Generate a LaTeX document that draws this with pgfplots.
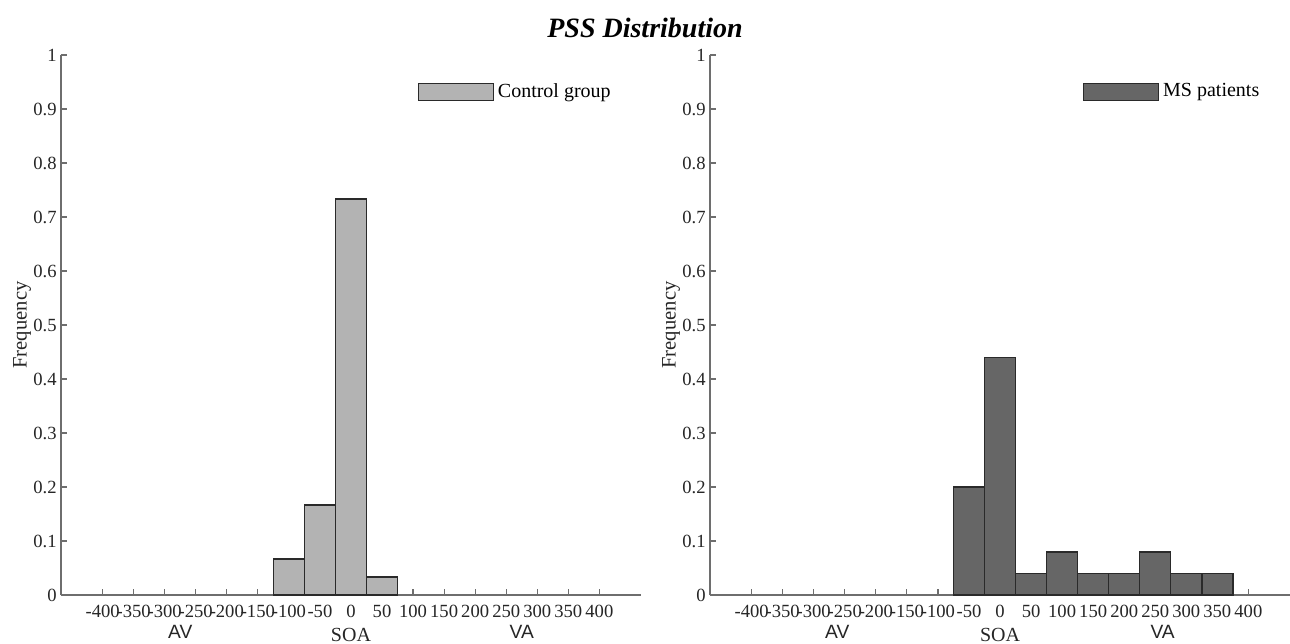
\documentclass[border=0pt]{standalone}
\usepackage{pgfplots}
\pgfplotsset{compat=1.18}
\usepackage{fontspec}
\setmainfont{Liberation Serif}
\newfontfamily\arialfont{Liberation Sans}
\definecolor{ctrl}{HTML}{B3B3B3}
\definecolor{msp}{HTML}{666666}
\definecolor{edge}{HTML}{2A2A2A}
\definecolor{axgray}{HTML}{6E6E6E}
\tikzset{sidelab/.style={font=\arialfont\fontsize{9.6}{11}\selectfont, anchor=base, yshift=-21.5pt, inner sep=0pt, text=black!85}}
\pgfplotsset{
 pss/.style={
  scale only axis, width=290pt, height=270pt,
  axis lines=left, axis line style={axgray, line width=0.85pt, -},
  xmin=-467, xmax=467, ymin=0, ymax=1,
  xtick={-400,-350,-300,-250,-200,-150,-100,-50,0,50,100,150,200,250,300,350,400},
  xticklabels={-400,-350,-300,-250,-200,-150,-100,-50,0,50,100,150,200,250,300,350,400},
  ytick={0,0.1,0.2,0.3,0.4,0.5,0.6,0.7,0.8,0.9,1},
  yticklabels={0,0.1,0.2,0.3,0.4,0.5,0.6,0.7,0.8,0.9,1},
  tick align=inside, major tick length=3pt,
  tick style={axgray, line width=0.6pt},
  xticklabel style={font=\fontsize{9.3}{11}\selectfont, anchor=base, yshift=-11pt, inner sep=0pt, text=black!85},
  yticklabel style={font=\fontsize{9.3}{11}\selectfont, inner sep=0pt, xshift=-2pt, text=black!85},
  ylabel=Frequency, ylabel style={font=\fontsize{10.3}{12}\selectfont, at={(axis description cs:-0.067,0.5)}, anchor=center, text=black!85},
  xlabel=SOA, xlabel style={font=\fontsize{10}{12}\selectfont, at={(axis cs:0,0)}, anchor=base, yshift=-23pt, inner sep=0pt, text=black!85},
  legend style={draw=none, fill=none, font=\fontsize{10}{12}\selectfont, inner sep=0pt, anchor=north west},
  legend image code/.code={\draw[#1] (0pt,-4.25pt) rectangle (37.5pt,4.25pt);},
  clip=false,
 },
 bars/.style={ybar, bar width=50, bar shift=0pt, draw=edge, line width=0.7pt},
}
\begin{document}
\begin{tikzpicture}
\path[use as bounding box] (0,0) rectangle (645pt,321.5pt);
\node[anchor=base] at (322.5pt,302.5pt) {\fontsize{14}{16}\selectfont\bfseries\itshape PSS Distribution};
\begin{axis}[pss, at={(30.5pt,24pt)}, anchor=south west,
  legend style={at={(rel axis cs:0.614,0.955)}}]
\addplot[bars, fill=ctrl] coordinates {(-100,0.0667) (-50,0.1667) (0,0.7333) (50,0.0333)};
\addlegendentry{Control group}
\node[sidelab] at (axis cs:-275,0) {AV};
\node[sidelab] at (axis cs:275,0) {VA};
\end{axis}
\begin{axis}[pss, at={(355pt,24pt)}, anchor=south west,
  legend style={at={(rel axis cs:0.642,0.955)}}]
\addplot[bars, fill=msp] coordinates {(-50,0.2) (0,0.44) (50,0.04) (100,0.08) (150,0.04) (200,0.04) (250,0.08) (300,0.04) (350,0.04)};
\addlegendentry{MS patients}
\node[sidelab] at (axis cs:-262,0) {AV};
\node[sidelab] at (axis cs:262,0) {VA};
\end{axis}
\end{tikzpicture}
\end{document}
